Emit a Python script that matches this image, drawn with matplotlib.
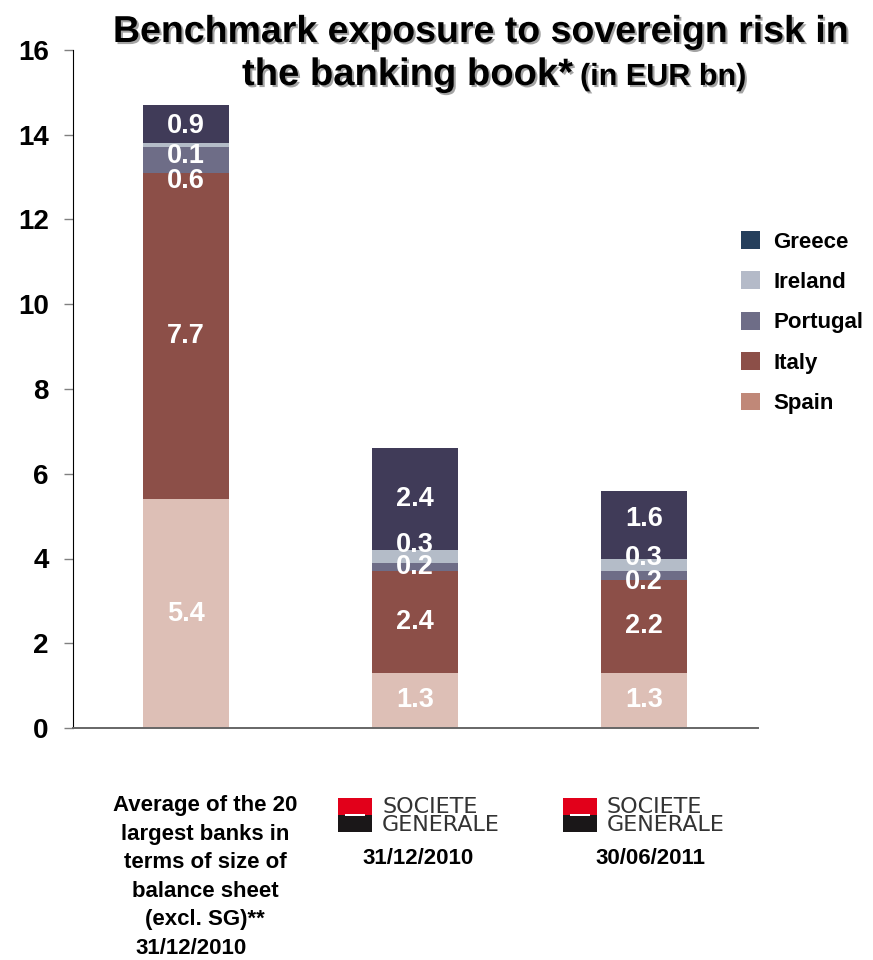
import matplotlib
matplotlib.use("Agg")
import matplotlib.pyplot as plt
import matplotlib.patheffects as pe
from matplotlib.patches import Rectangle, Patch

plt.rcParams['font.family'] = ['Liberation Sans', 'DejaVu Sans']

# ---- data -------------------------------------------------------------
categories = ["avg20", "sg_2010", "sg_2011"]
countries = ["Spain", "Italy", "Portugal", "Ireland", "Greece"]
spain = [5.4, 1.3, 1.3]
italy = [7.7, 2.4, 2.2]
portugal = [0.6, 0.2, 0.2]
ireland = [0.1, 0.3, 0.3]
greece = [0.9, 2.4, 1.6]
series = [spain, italy, portugal, ireland, greece]

cat_label = "Average of the 20\nlargest banks in\nterms of size of\nbalance sheet\n(excl. SG)**"
cat_dates = ["31/12/2010", "31/12/2010", "30/06/2011"]
yticks = [0, 2, 4, 6, 8, 10, 12, 14, 16]

# ---- styling ----------------------------------------------------------
bar_colors = ["#DDBFB6", "#8C4F48", "#6E6D87", "#B4BCC8", "#403B58"]
legend_colors = {"Greece": "#253F5C", "Ireland": "#B4BAC8", "Portugal": "#6E6D87",
                 "Italy": "#8C4F48", "Spain": "#C08878"}
# vertical nudges (points) for crowded segment labels, per series per bar
nudges = [[0, 0, 0], [0, 0, 0], [-15, 0, -5], [-8, 8, 5], [-1, 0, 4]]

W, H = 873, 960
fig = plt.figure(figsize=(W / 100, H / 100), dpi=100)
ax = fig.add_axes([73 / W, 1 - 728 / H, (758 - 73) / W, (728 - 50) / H])

x = list(range(len(categories)))
bottoms = [0.0] * len(categories)
for s, vals in enumerate(series):
    bars = ax.bar(x, vals, width=0.376, bottom=bottoms, color=bar_colors[s],
                  edgecolor="none", zorder=2)
    for i, (rect, v) in enumerate(zip(bars, vals)):
        cy = rect.get_y() + rect.get_height() / 2
        ax.annotate(f"{v:.1f}", (rect.get_x() + rect.get_width() / 2, cy),
                    xytext=(0, nudges[s][i]), textcoords="offset points",
                    ha="center", va="center", color="white",
                    fontsize=19.5, fontweight="bold", zorder=3)
    bottoms = [b + v for b, v in zip(bottoms, vals)]

ax.set_xlim(-0.493, 2.498)
ax.set_ylim(0, 16)
ax.set_yticks(yticks)
ax.set_yticklabels([str(t) for t in yticks], fontsize=20, fontweight="bold")
ax.tick_params(axis="y", length=6.5, width=1, color="#808080", pad=11)
ax.set_xticks([])
for side in ("top", "right"):
    ax.spines[side].set_visible(False)
ax.spines["left"].set_color("black")
ax.spines["left"].set_linewidth(0.8)
ax.spines["bottom"].set_color("#666666")
ax.spines["bottom"].set_linewidth(1.4)

# legend (top-down order)
handles = [Patch(facecolor=legend_colors[c], edgecolor="none") for c in countries[::-1]]
leg = fig.legend(handles, countries[::-1], loc="upper left",
                 bbox_to_anchor=(721 / W, 1 - 211 / H), frameon=False,
                 handlelength=0.85, handleheight=0.85, handletextpad=0.6,
                 labelspacing=0.85, prop={"weight": "bold", "size": 16})

# title with drop shadow
shadow = [pe.withSimplePatchShadow(offset=(1.5, -1.5), shadow_rgbFace="#9a9a9a", alpha=0.9)]
fig.text(481 / W, 1 - 42 / H, "Benchmark exposure to sovereign risk in",
         ha="center", va="baseline", fontsize=27, fontweight="bold", path_effects=shadow)
fig.text(242 / W, 1 - 85 / H, "the banking book*",
         ha="left", va="baseline", fontsize=27.5, fontweight="bold", path_effects=shadow)
fig.text(580 / W, 1 - 85 / H, "(in EUR bn)",
         ha="left", va="baseline", fontsize=22, fontweight="bold", path_effects=shadow)

# category labels
fig.text(205 / W, 1 - 795 / H, cat_label, ha="center", va="top",
         fontsize=16, fontweight="bold", linespacing=1.47)
fig.text(191 / W, 1 - 954 / H, cat_dates[0], ha="center", va="baseline",
         fontsize=16, fontweight="bold")
for cx, d in zip([418, 650], cat_dates[1:]):
    fig.text(cx / W, 1 - 864 / H, d, ha="center", va="baseline",
             fontsize=16, fontweight="bold")


# Societe Generale logo marks
def logo(left_px):
    top, size = 798, 34
    fig.patches.append(Rectangle((left_px / W, 1 - (top + size / 2) / H), size / W, size / 2 / H,
                                 transform=fig.transFigure, facecolor="#E2001A", edgecolor="none"))
    fig.patches.append(Rectangle((left_px / W, 1 - (top + size) / H), size / W, size / 2 / H,
                                 transform=fig.transFigure, facecolor="#1A1718", edgecolor="none"))
    fig.patches.append(Rectangle(((left_px + 7) / W, 1 - (top + size / 2 + 1) / H), 20 / W, 2 / H,
                                 transform=fig.transFigure, facecolor="white", edgecolor="none"))
    fig.text((left_px + 44) / W, 1 - (top + 15) / H, "SOCIETE", ha="left", va="baseline",
             fontsize=16, color="#333333", family="DejaVu Sans")
    fig.text((left_px + 44) / W, 1 - (top + 33) / H, "GENERALE", ha="left", va="baseline",
             fontsize=16, color="#333333", family="DejaVu Sans")


logo(338)
logo(563)

fig.savefig("out.png", dpi=100)
